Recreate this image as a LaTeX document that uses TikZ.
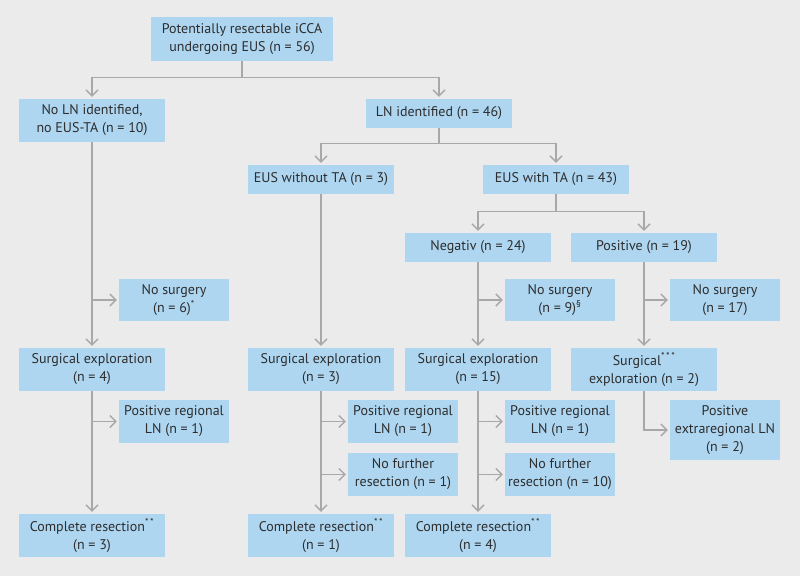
\documentclass[tikz,border=0pt]{standalone}
\usepackage{fontspec}
\setmainfont{PT Sans}
\usepackage{tikz}
\usetikzlibrary{arrows.meta,calc,positioning}
\definecolor{fondo}{RGB}{235,235,235}
\definecolor{cajaazul}{RGB}{174,214,241}
\definecolor{lineagris}{RGB}{168,168,168}
\definecolor{textogris}{RGB}{45,45,45}
\tikzset{
  bloque/.style={
    fill=cajaazul,
    text=textogris,
    align=center,
    minimum width=146pt,
    minimum height=43pt,
    inner sep=2pt,
    font=\fontsize{14}{18}\selectfont
  },
  mini/.style={
    bloque,
    minimum width=110pt
  },
  linea/.style={
    bloque,
    minimum height=29pt
  },
  arrow/.style={
    -{Straight Barb[length=6pt,width=12pt,line width=1.4pt]},
    line width=1.4pt,
    lineagris,
    shorten >=2pt
  }
}
\newcommand{\sups}[1]{\textsuperscript{#1}}

\begin{document}
\begin{tikzpicture}[x=1pt,y=-1pt]
\fill[fondo] (0,0) rectangle (800,576);
\useasboundingbox (0,0) rectangle (800,576);

% first level
\node[bloque, minimum width=182pt, minimum height=44pt] (top) at (242,39) {Potentially resectable iCCA\\undergoing EUS (n = 56)};
\node[bloque] (nol) at (92,120.5) {No LN identified,\\no EUS-TA (n = 10)};
\node[linea] (lni) at (439,113.5) {LN identified (n = 46)};

% second level
\node[linea] (euswo) at (321,179.5) {EUS without TA (n = 3)};
\node[linea] (eusw) at (556,179.5) {EUS with TA (n = 43)};
\node[linea] (neg) at (478,247.5) {Negativ (n = 24)};
\node[linea] (pos) at (644,247.5) {Positive (n = 19)};

% no surgery
\node[mini, minimum height=42pt] (nos6) at (174,300) {No surgery\\(n = 6)\sups{*}};
\node[mini, minimum height=42pt] (nos9) at (560,300) {No surgery\\(n = 9)\sups{\S}};
\node[mini, minimum height=42pt] (nos17) at (725,300) {No surgery\\(n = 17)};

% exploration
\node[bloque] (surg4) at (92,369.5) {Surgical exploration\\(n = 4)};
\node[bloque] (surg3) at (321,369.5) {Surgical exploration\\(n = 3)};
\node[bloque] (surg15) at (478,369.5) {Surgical exploration\\(n = 15)};
\node[bloque] (surg2) at (644,369.5) {Surgical\sups{*\,*\,*}\\exploration (n = 2)};

% findings
\node[mini] (prl) at (174,421.5) {Positive regional\\LN (n = 1)};
\node[mini] (prm) at (403,421.5) {Positive regional\\LN (n = 1)};
\node[mini] (prr) at (560,421.5) {Positive regional\\LN (n = 1)};
\node[mini] (nfm) at (403,474.5) {No further\\resection (n = 1)};
\node[mini] (nfr) at (560,474.5) {No further\\resection (n = 10)};
\node[mini, minimum height=60pt] (extra) at (725,430) {Positive\\extraregional LN\\(n = 2)};

% resection
\node[bloque] (cr3) at (92,535.5) {Complete resection\sups{*\,*}\\(n = 3)};
\node[bloque] (cr1) at (321,535.5) {Complete resection\sups{*\,*}\\(n = 1)};
\node[bloque] (cr4) at (478,535.5) {Complete resection\sups{*\,*}\\(n = 4)};

% connectors
\draw[arrow] (top.south) -- ++(0,16) -| (nol.north);
\draw[arrow] (top.south) -- ++(0,16) -| (lni.north);
\draw[arrow] (lni.south) -- ++(0,15) -| (euswo.north);
\draw[arrow] (lni.south) -- ++(0,15) -| (eusw.north);
\draw[arrow] (eusw.south) -- ++(0,17) -| (neg.north);
\draw[arrow] (eusw.south) -- ++(0,17) -| (pos.north);

\draw[arrow] (nol.south) -- (surg4.north);
\draw[arrow] (nol.south |- nos6.west) -- (nos6.west);
\draw[arrow] (euswo.south) -- (surg3.north);
\draw[arrow] (neg.south) -- (surg15.north);
\draw[arrow] (neg.south |- nos9.west) -- (nos9.west);
\draw[arrow] (pos.south) -- (surg2.north);
\draw[arrow] (pos.south |- nos17.west) -- (nos17.west);

\draw[arrow] (surg4.south) -- (cr3.north);
\draw[arrow] (surg4.south |- prl.west) -- (prl.west);
\draw[arrow] (surg3.south) -- (cr1.north);
\draw[arrow] (surg3.south |- prm.west) -- (prm.west);
\draw[arrow] (surg3.south |- nfm.west) -- (nfm.west);
\draw[arrow] (surg15.south) -- (cr4.north);
\draw[arrow] (surg15.south |- prr.west) -- (prr.west);
\draw[arrow] (surg15.south |- nfr.west) -- (nfr.west);
\draw[arrow] (surg2.south) |- (extra.west);
\end{tikzpicture}
\end{document}
